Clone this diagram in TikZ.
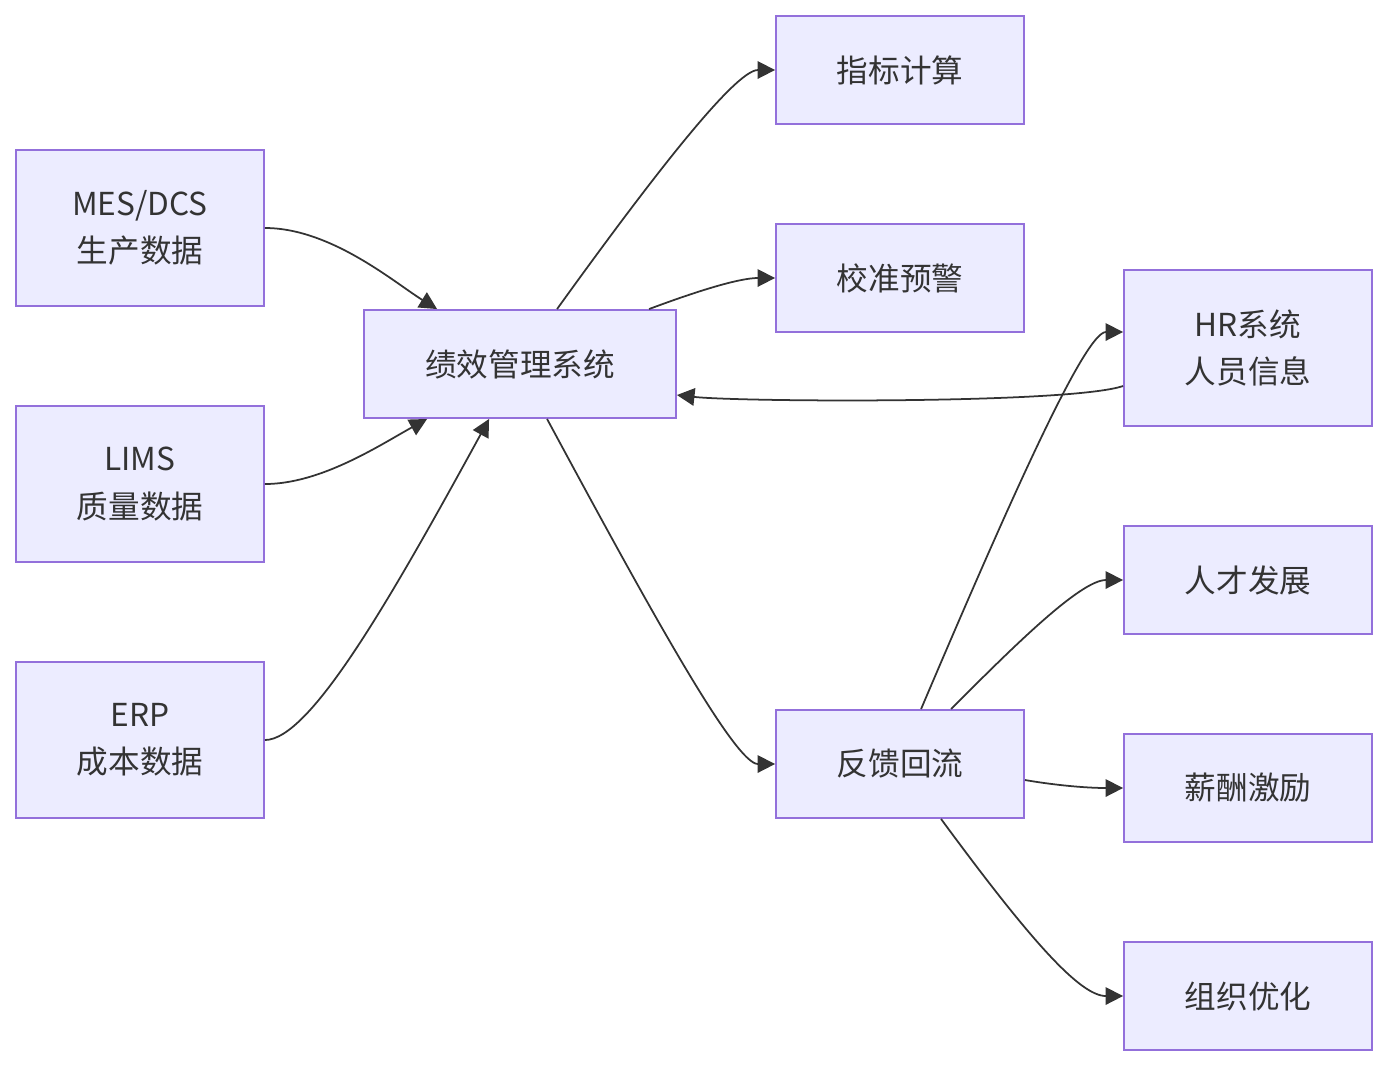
\documentclass[tikz,border=0pt]{standalone}
\usepackage{fontspec}
\setmainfont{Noto Sans CJK SC}
\usepackage{tikz}
\usetikzlibrary{arrows.meta,positioning,calc}
\definecolor{NodoFondo}{HTML}{ECECFF}
\definecolor{NodoBorde}{HTML}{9370DB}
\definecolor{Linea}{HTML}{333333}
\tikzset{
  caja/.style      = {draw=NodoBorde, fill=NodoFondo, line width=1.1pt, align=center,
                      font=\fontsize{18}{27}\selectfont, text=Linea,
                      minimum width=4.96cm, minimum height=2.16cm, inner sep=2pt},
  cajaalta/.style  = {caja, minimum height=3.12cm},
  conector/.style  = {-{Triangle[length=10pt,width=10pt]}, draw=Linea, line width=1pt},
}
\begin{document}
\begin{tikzpicture}[x=0.02cm, y=-0.02cm]
  \useasboundingbox (0,0) rectangle (1388,1066);
  % fuentes de datos
  \node[cajaalta] (mes)  at (140,228) {MES/DCS\\生产数据};
  \node[cajaalta] (lims) at (140,484) {LIMS\\质量数据};
  \node[cajaalta] (erp)  at (140,740) {ERP\\成本数据};
  % sistema central
  \node[caja, minimum width=6.24cm] (sys) at (520,364) {绩效管理系统};
  \node[caja] (ind)    at (900,70)  {指标计算};
  \node[caja] (alerta) at (900,278) {校准预警};
  \node[caja] (fb)     at (900,764) {反馈回流};
  % aplicaciones
  \node[cajaalta] (hr) at (1248,348) {HR系统\\人员信息};
  \node[caja] (talent) at (1248,580) {人才发展};
  \node[caja] (pay)    at (1248,788) {薪酬激励};
  \node[caja] (org)    at (1248,996) {组织优化};
  % entradas
  \draw[conector] (mes.east) .. controls +(66,0) and (395,283) .. ($(sys.north west)+(74,0)$);
  \draw[conector] (lims.east) .. controls +(56,0) and (380,445) .. ($(sys.south west)+(64,0)$);
  \draw[conector] (erp.east) .. controls +(45,0) and (390,600) .. ($(sys.south west)+(126,0)$);
  % salidas
  \draw[conector] ($(sys.north west)+(194,0)$) .. controls (650,180) and (735,70) .. (ind.west);
  \draw[conector] ($(sys.north west)+(286,0)$) .. controls (700,290) and (740,278) .. (alerta.west);
  \draw[conector] ($(hr.west)+(0,38)$) .. controls (1070,404) and (740,402) .. ($(sys.east)+(0,31)$);
  \draw[conector] ($(sys.south west)+(184,0)$) .. controls (650,610) and (735,764) .. (fb.west);
  % retroalimentacion
  \draw[conector] ($(fb.north west)+(146,0)$) .. controls (1010,500) and (1085,332) .. ($(hr.west)+(0,-16)$);
  \draw[conector] ($(fb.north west)+(176,0)$) .. controls (1010,650) and (1080,580) .. (talent.west);
  \draw[conector] ($(fb.east)+(0,16)$) .. controls (1060,786) and (1090,788) .. (pay.west);
  \draw[conector] ($(fb.south west)+(166,0)$) .. controls (1030,940) and (1080,996) .. (org.west);
\end{tikzpicture}
\end{document}
